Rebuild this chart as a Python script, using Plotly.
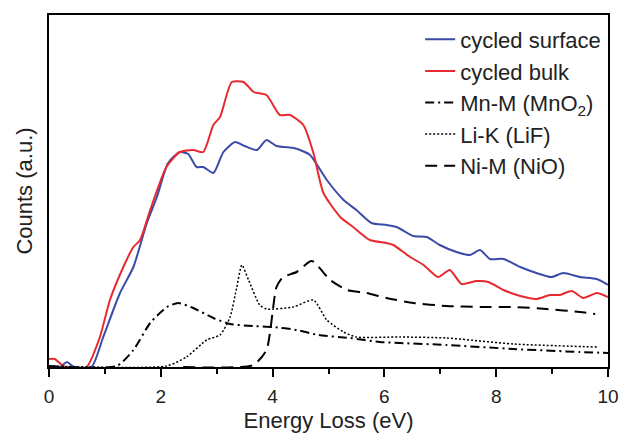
import plotly.graph_objects as go

# ---- data (energy loss in eV, counts in arbitrary units) ----
surf_x = [0, 0.2, 0.32, 0.45, 0.76, 0.97, 1.27, 1.51, 1.75, 1.93, 2.13, 2.34, 2.49, 2.64, 2.76, 2.94,
          3.12, 3.33, 3.50, 3.72, 3.89, 4.07, 4.37, 4.49, 4.67, 4.97, 5.27, 5.50, 5.77, 6.04, 6.22,
          6.52, 6.76, 6.99, 7.29, 7.53, 7.71, 7.89, 8.13, 8.43, 8.72, 8.99, 9.20, 9.50, 9.80, 10]
surf_y = [0, 0, 5, 0, 0, 30, 74, 100, 144, 170, 204, 215, 213, 200, 200, 194,
          215, 225, 221, 217, 227, 221, 219, 217, 212, 187, 167, 157, 144, 142, 140,
          131, 130, 122, 115, 112, 117, 108, 108, 100, 94, 90, 94, 90, 88, 82]

bulk_x = [0, 0.1, 0.29, 0.67, 0.91, 1.09, 1.33, 1.51, 1.63, 1.81, 2.1, 2.34, 2.58, 2.76, 2.94, 3.06,
          3.27, 3.48, 3.66, 3.89, 4.13, 4.31, 4.55, 4.73, 4.91, 5.21, 5.44, 5.74, 6.04, 6.16, 6.46,
          6.70, 6.96, 7.17, 7.38, 7.65, 7.86, 8.13, 8.43, 8.72, 8.96, 9.14, 9.35, 9.56, 9.80, 10]
bulk_y = [8, 8, 0, 0, 30, 67, 100, 120, 127, 157, 200, 215, 217, 215, 242, 250,
          285, 285, 275, 272, 252, 252, 242, 214, 174, 150, 140, 127, 124, 122, 110,
          102, 90, 97, 83, 86, 85, 77, 71, 68, 72, 72, 76, 69, 74, 70]

mn_x = [0, 1.21, 1.51, 1.81, 2.11, 2.31, 2.58, 2.94, 3.24, 3.65, 4.01, 4.43, 4.82, 5.38, 5.92,
        6.28, 7.11, 8.31, 9.50, 10]
mn_y = [1, 1, 17, 44, 60, 64, 59, 49, 43, 41, 40, 37, 32, 29, 25, 24, 22, 18, 15, 14]

li_x = [0, 2.1, 2.46, 2.82, 3.06, 3.24, 3.36, 3.45, 3.57, 3.77, 3.89, 4.37, 4.73, 4.97, 5.27,
        5.50, 6.28, 7.11, 8.31, 9.80]
li_y = [1, 1, 10, 27, 32, 50, 80, 102, 87, 62, 58, 60, 67, 47, 35, 30, 30, 29, 23, 20]

ni_x = [2.4, 3.65, 3.89, 4.07, 4.19, 4.43, 4.70, 5.03, 5.33, 5.68, 6.04, 6.52, 7.11, 7.71, 8.31,
        8.90, 9.50, 9.77]
ni_y = [0, 2, 17, 80, 90, 95, 106, 87, 77, 74, 69, 64, 61, 60, 60, 58, 55, 53]

x_ticks = [0, 2, 4, 6, 8, 10]

FONT = "Liberation Sans, Arial, sans-serif"
TXT = "#222222"

fig = go.Figure()
fig.add_trace(go.Scatter(x=surf_x, y=surf_y, mode="lines", name="cycled surface",
                         line=dict(color="#3b4ba8", width=2, shape="spline", smoothing=0.6)))
fig.add_trace(go.Scatter(x=bulk_x, y=bulk_y, mode="lines", name="cycled bulk",
                         line=dict(color="#e8292f", width=2, shape="spline", smoothing=0.6)))
fig.add_trace(go.Scatter(x=mn_x, y=mn_y, mode="lines", name="Mn-M (MnO<sub>2</sub>)",
                         line=dict(color="black", width=2, dash="9px,4px,2px,4px",
                                   shape="spline", smoothing=0.6)))
fig.add_trace(go.Scatter(x=li_x, y=li_y, mode="lines", name="Li-K (LiF)",
                         line=dict(color="black", width=1.5, dash="2px,2px",
                                   shape="spline", smoothing=0.6)))
fig.add_trace(go.Scatter(x=ni_x, y=ni_y, mode="lines", name="Ni-M (NiO)",
                         line=dict(color="black", width=2, dash="12px,7px",
                                   shape="spline", smoothing=0.6)))

fig.update_layout(
    width=622, height=433,
    margin=dict(l=49, r=14, t=15, b=66),
    plot_bgcolor="white", paper_bgcolor="white",
    font=dict(family=FONT, color=TXT),
    showlegend=True,
    legend=dict(x=0.664, y=0.99, xanchor="left", yanchor="top",
                bgcolor="rgba(0,0,0,0)", font=dict(size=22, family=FONT, color=TXT),
                tracegroupgap=0, itemwidth=30),
)
fig.update_xaxes(
    range=[0, 10], tickvals=x_ticks, ticks="outside", ticklen=8, tickwidth=2, tickcolor="black",
    showline=True, linewidth=2, linecolor="black", mirror=True, showgrid=False, zeroline=False,
    tickfont=dict(size=19, family=FONT, color=TXT), ticklabelstandoff=3, automargin=False,
    minor=dict(ticks="outside", ticklen=5, tickwidth=2, tickcolor="black", dtick=1, showgrid=False),
    title=dict(text="Energy Loss (eV)", font=dict(size=22, family=FONT, color=TXT), standoff=10),
)
fig.update_yaxes(
    range=[0, 352], showticklabels=False, ticks="", showline=True, linewidth=2, linecolor="black",
    mirror=True, showgrid=False, zeroline=False, automargin=False,
    title=dict(text="Counts (a.u.)", font=dict(size=22, family=FONT, color=TXT), standoff=8),
)

fig.write_html("out.html")
